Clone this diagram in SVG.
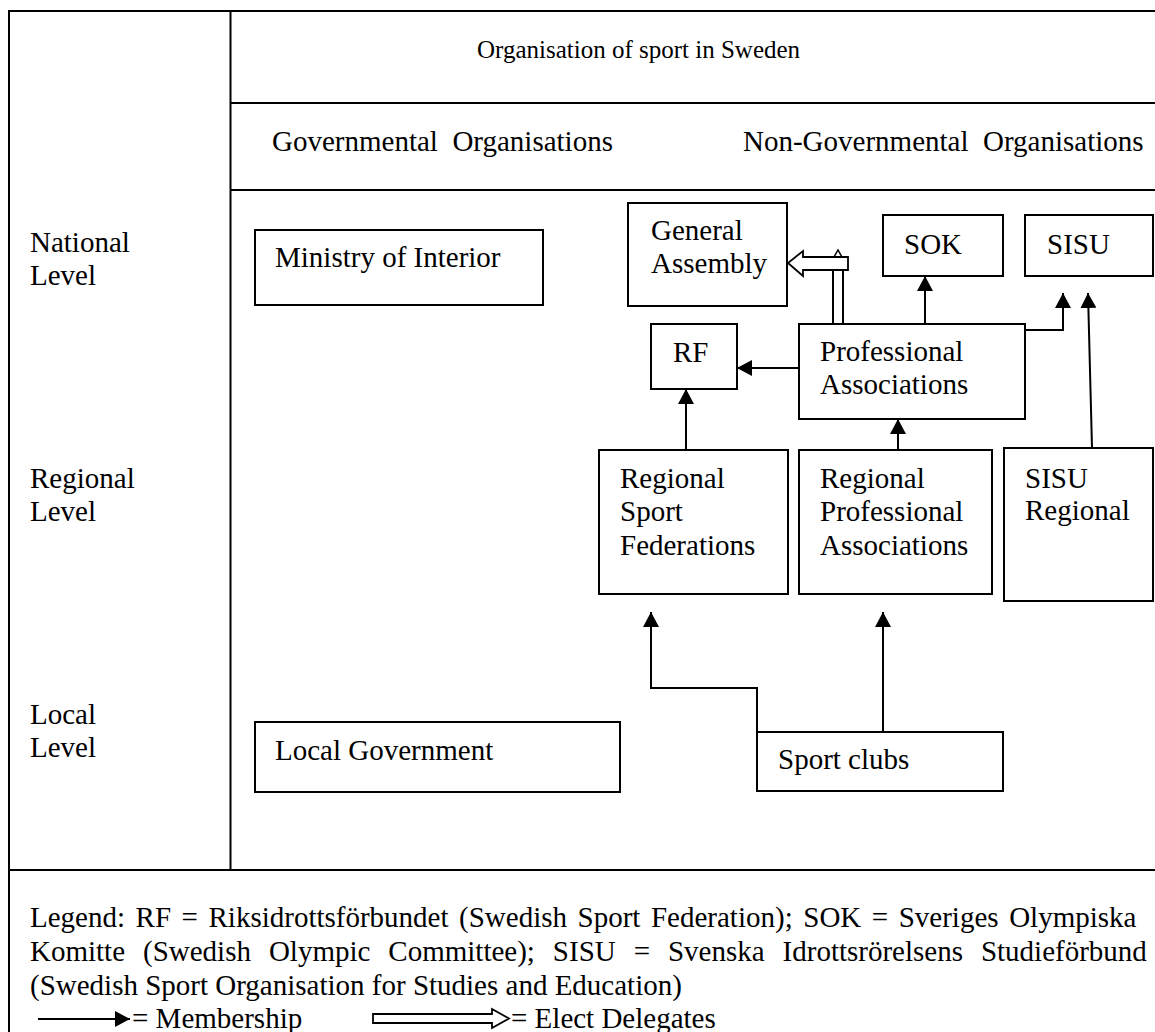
<svg xmlns="http://www.w3.org/2000/svg" width="1155" height="1032" viewBox="0 0 1155 1032">
<style>
text{font-family:"Liberation Serif","Times New Roman",serif;font-size:29px;fill:#000}
.frame{stroke:#000;stroke-width:2;fill:none}
.box{stroke:#000;stroke-width:2;fill:#fff}
.conn{stroke:#000;stroke-width:2;fill:none}
.block{stroke:#000;stroke-width:1.8;fill:#fff}
</style>
<defs>
<marker id="ah" viewBox="0 0 15 16" refX="15" refY="8" markerWidth="15" markerHeight="16" markerUnits="userSpaceOnUse" orient="auto">
<path d="M0,0 L15,8 L0,16 z" fill="#000"/>
</marker>
</defs>
<rect width="1155" height="1032" fill="#fff"/>
<g id="frame">
<line class="frame" x1="9" y1="11" x2="9" y2="1032"/>
<line class="frame" x1="8" y1="11" x2="1155" y2="11"/>
<line class="frame" x1="230.5" y1="11" x2="230.5" y2="870"/>
<line class="frame" x1="230" y1="103" x2="1155" y2="103"/>
<line class="frame" x1="230" y1="190" x2="1155" y2="190"/>
<line class="frame" x1="8" y1="870" x2="1155" y2="870"/>
</g>
<g id="headers">
<text x="477" y="58" style="font-size:25px">Organisation of sport in Sweden</text>
<text x="272" y="151" xml:space="preserve">Governmental  Organisations</text>
<text x="743" y="151" xml:space="preserve">Non-Governmental  Organisations</text>
<text x="30" y="252">National</text>
<text x="30" y="285">Level</text>
<text x="30" y="488">Regional</text>
<text x="30" y="521">Level</text>
<text x="30" y="724">Local</text>
<text x="30" y="757">Level</text>
</g>
<g id="connectors">
<line class="conn" x1="799" y1="368" x2="737" y2="368" marker-end="url(#ah)"/>
<line class="conn" x1="925" y1="324" x2="925" y2="276" marker-end="url(#ah)"/>
<path class="conn" d="M1025,330 H1063 V293" marker-end="url(#ah)"/>
<line class="conn" x1="1092" y1="448" x2="1088" y2="293" marker-end="url(#ah)"/>
<line class="conn" x1="686" y1="450" x2="686" y2="389" marker-end="url(#ah)"/>
<line class="conn" x1="898" y1="450" x2="898" y2="419" marker-end="url(#ah)"/>
<path class="conn" d="M757,732 V688 H651 V612" marker-end="url(#ah)"/>
<line class="conn" x1="883" y1="732" x2="883" y2="612" marker-end="url(#ah)"/>
<g id="elect">
<polyline class="conn" points="834,257 838,250 842,257" style="stroke-width:1.5"/>
<polygon class="block" points="848,257 803,257 803,251 788,263 803,276 803,270 848,270"/>
<line class="conn" x1="833" y1="270" x2="833" y2="324"/>
<line class="conn" x1="843" y1="270" x2="843" y2="324"/>
</g>
</g>
<g id="n-ministry"><rect class="box" x="255" y="230" width="288" height="75"/><text x="275" y="267">Ministry of Interior</text></g>
<g id="n-general"><rect class="box" x="628" y="203" width="159" height="103"/><text x="651" y="240">General</text><text x="651" y="273">Assembly</text></g>
<g id="n-sok"><rect class="box" x="883" y="215" width="120" height="61"/><text x="904" y="254">SOK</text></g>
<g id="n-sisu"><rect class="box" x="1025" y="215" width="128" height="61"/><text x="1047" y="254">SISU</text></g>
<g id="n-rf"><rect class="box" x="651" y="324" width="86" height="65"/><text x="673" y="362">RF</text></g>
<g id="n-pa"><rect class="box" x="799" y="324" width="226" height="95"/><text x="820" y="361">Professional</text><text x="820" y="394">Associations</text></g>
<g id="n-rsf"><rect class="box" x="599" y="450" width="189" height="144"/><text x="620" y="488">Regional</text><text x="620" y="521">Sport</text><text x="620" y="555">Federations</text></g>
<g id="n-rpa"><rect class="box" x="799" y="450" width="193" height="144"/><text x="820" y="488">Regional</text><text x="820" y="521">Professional</text><text x="820" y="555">Associations</text></g>
<g id="n-sisureg"><rect class="box" x="1004" y="448" width="149" height="153"/><text x="1025" y="488">SISU</text><text x="1025" y="520">Regional</text></g>
<g id="n-localgov"><rect class="box" x="255" y="722" width="365" height="70"/><text x="275" y="760">Local Government</text></g>
<g id="n-clubs"><rect class="box" x="757" y="732" width="246" height="59"/><text x="778" y="769">Sport clubs</text></g>
<g id="legend">
<text x="30" y="927" style="word-spacing:3.3px">Legend: RF = Riksidrottsförbundet (Swedish Sport Federation); SOK = Sveriges Olympiska</text>
<text x="30" y="961" style="word-spacing:10.7px">Komitte (Swedish Olympic Committee); SISU = Svenska Idrottsrörelsens Studieförbund</text>
<text x="30" y="995">(Swedish Sport Organisation for Studies and Education)</text>
<line class="conn" x1="38" y1="1019" x2="130" y2="1019" marker-end="url(#ah)"/>
<text x="132" y="1028">= Membership</text>
<polygon class="block" points="373,1014 492,1014 492,1009 509,1018.5 492,1028 492,1023 373,1023"/>
<text x="511" y="1028">= Elect Delegates</text>
</g>
</svg>
